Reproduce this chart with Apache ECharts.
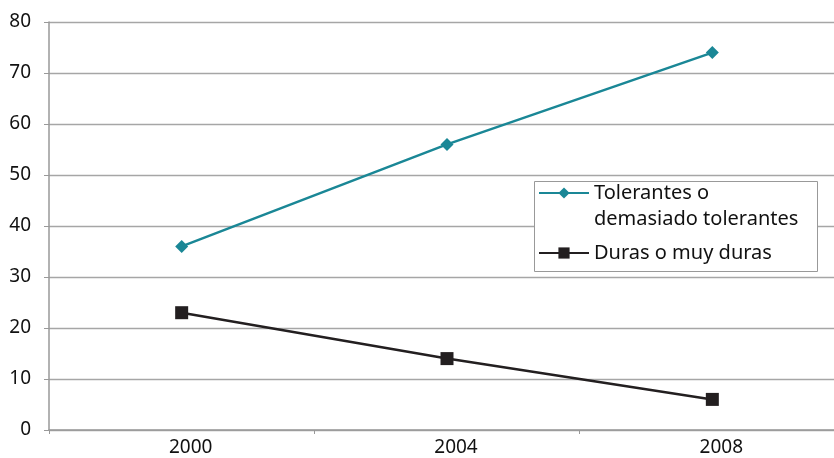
<!DOCTYPE html>
<html>
<head>
<meta charset="utf-8">
<script src="https://cdn.jsdelivr.net/npm/echarts@6/dist/echarts.min.js"></script>
<style>html,body{margin:0;padding:0;background:#fff}#c{width:834px;height:458px}</style>
</head>
<body>
<div id="c"></div>
<script>
var categories = ['2000', '2004', '2008'];
var tolerantes = [36, 56, 74];
var duras = [23, 14, 6];
var yTicks = [0, 80, 10];
var seriesNames = ['Tolerantes o\ndemasiado tolerantes', 'Duras o muy duras'];

var chart = echarts.init(document.getElementById('c'));
var font = 'Noto Sans';
var teal = '#1a8796';
var dark = '#231f20';
chart.setOption({
  animation: false,
  textStyle: { fontFamily: font },
  grid: { left: 49, right: -11, top: 22, bottom: 28, containLabel: false, outerBoundsMode: 'none' },
  graphic: [{
    type: 'rect', z: 3,
    shape: { x: 534.5, y: 181.5, width: 283, height: 90 },
    style: { fill: '#fff', stroke: '#999', lineWidth: 1 }
  }],
  legend: {
    orient: 'vertical',
    left: 538, top: 154,
    padding: 0,
    itemWidth: 50, itemHeight: 14, itemGap: 8,
    textStyle: { fontFamily: font, fontSize: 20, color: '#111', lineHeight: 26 },
    formatter: function (name) {
      return name.indexOf('\n') >= 0 ? '\n' + name : name;
    },
    data: seriesNames
  },
  xAxis: {
    type: 'category',
    data: categories,
    boundaryGap: true,
    axisLine: { lineStyle: { color: '#999', width: 1.5 } },
    axisTick: { show: true, length: 4, lineStyle: { color: '#999' } },
    axisLabel: { color: '#111', fontSize: 19, margin: 8, padding: [0, 0, 0, 18], fontFamily: font }
  },
  yAxis: {
    type: 'value',
    min: yTicks[0], max: yTicks[1], interval: yTicks[2],
    axisLine: { show: true, lineStyle: { color: '#999', width: 1.5 } },
    axisTick: { show: true, length: 5, lineStyle: { color: '#999' } },
    splitLine: { lineStyle: { color: '#a6a6a6', width: 1.3 } },
    axisLabel: { color: '#111', fontSize: 19, margin: 18, fontFamily: font }
  },
  series: [
    {
      name: seriesNames[0], type: 'line', data: tolerantes,
      symbol: 'diamond', symbolSize: 13, showSymbol: true,
      lineStyle: { color: teal, width: 2.5 },
      itemStyle: { color: teal }
    },
    {
      name: seriesNames[1], type: 'line', data: duras,
      symbol: 'rect', symbolSize: 13, showSymbol: true,
      lineStyle: { color: dark, width: 2.5 },
      itemStyle: { color: dark }
    }
  ]
});
</script>
</body>
</html>
